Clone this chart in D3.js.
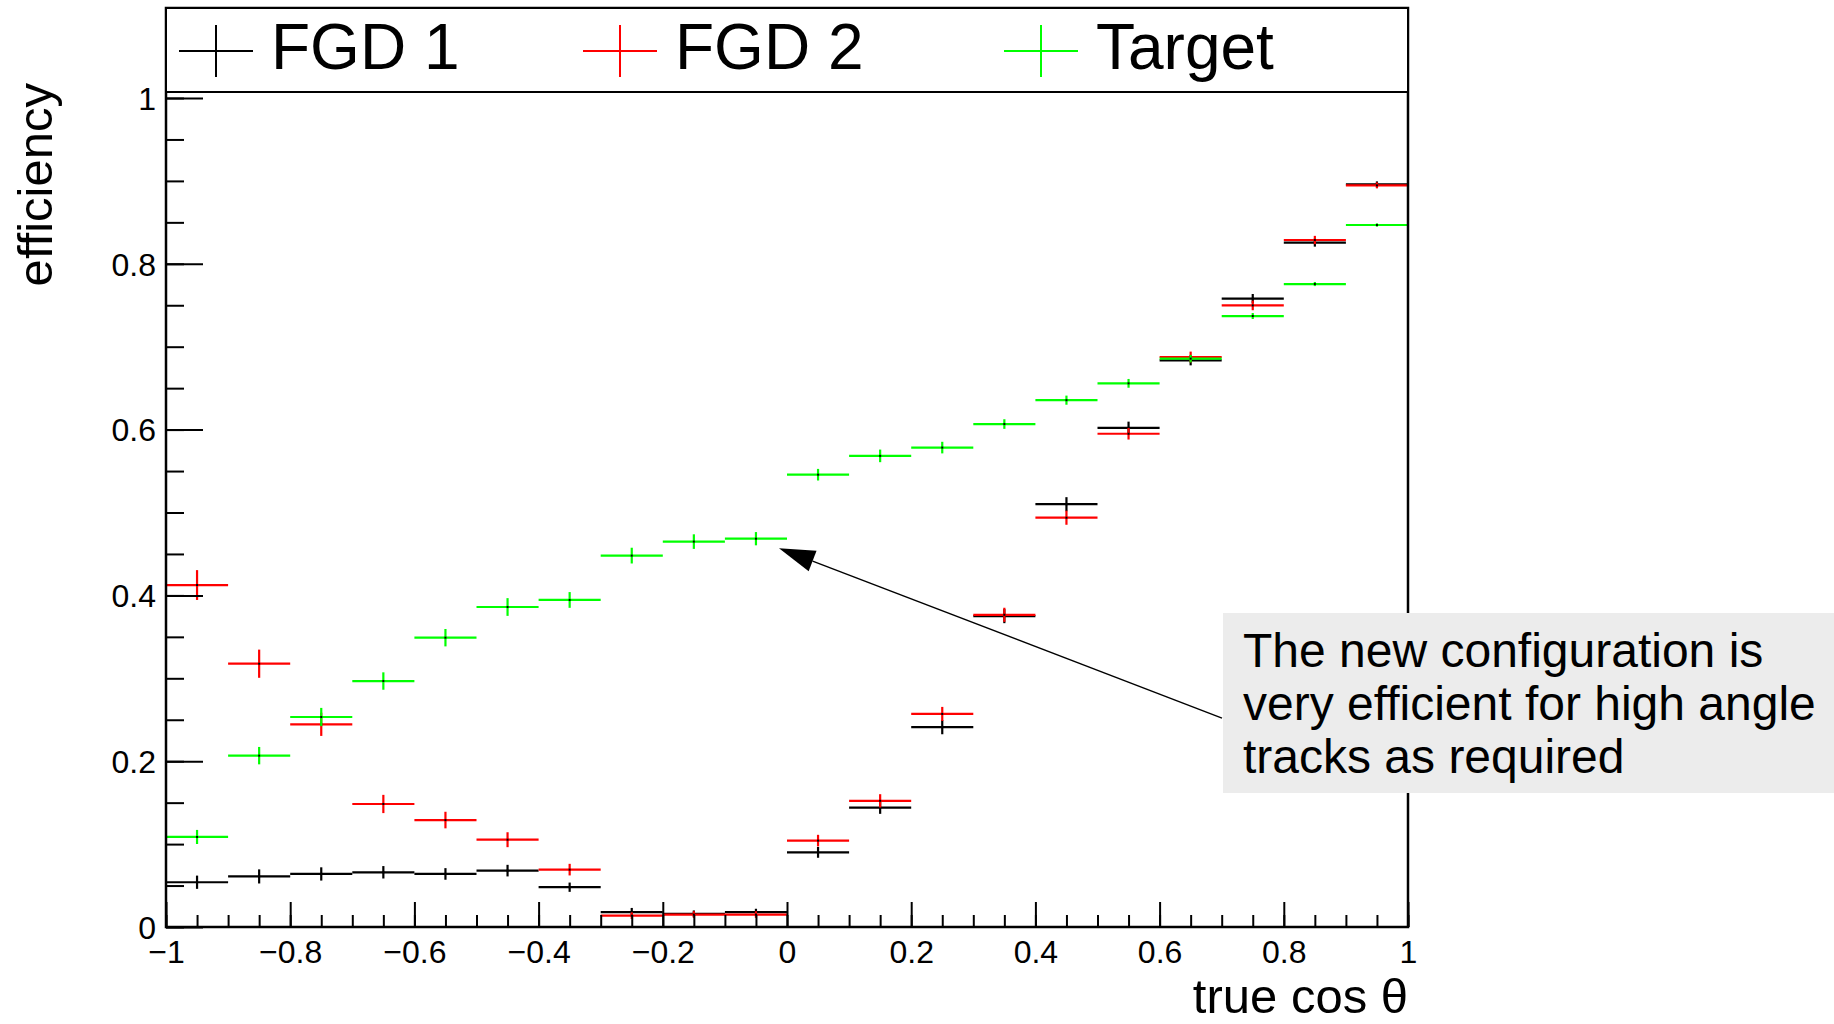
<!DOCTYPE html>
<html>
<head>
<meta charset="utf-8">
<script src="https://cdn.jsdelivr.net/npm/d3@7"></script>
<style>
  body { margin: 0; background: #fff; }
  text { font-family: "Liberation Sans", Arial, sans-serif; }
</style>
</head>
<body>
<div id="chart"></div>
<script>
// bin centres of true cos theta (bin width 0.1)
const binCenters = [-0.95, -0.85, -0.75, -0.65, -0.55, -0.45, -0.35, -0.25, -0.15, -0.05,
                    0.05, 0.15, 0.25, 0.35, 0.45, 0.55, 0.65, 0.75, 0.85, 0.95];
const binWidth = 0.1;

const fgd1Eff = [0.054, 0.061, 0.064, 0.066, 0.064, 0.068, 0.048, 0.018, 0.016, 0.018,
                 0.090, 0.144, 0.241, 0.375, 0.510, 0.602, 0.6835, 0.758, 0.8255, 0.8958];
const fgd1Err = [0.008, 0.0085, 0.008, 0.0075, 0.007, 0.007, 0.0056, 0.005, 0.004, 0.004,
                 0.0065, 0.0075, 0.0085, 0.0085, 0.0085, 0.0076, 0.006, 0.0056, 0.0048, 0.0036];

const fgd2Eff = [0.4125, 0.3176, 0.2445, 0.1484, 0.129, 0.1053, 0.0692, 0.0137, 0.015, 0.015,
                 0.1042, 0.1522, 0.257, 0.3766, 0.4937, 0.595, 0.6876, 0.7498, 0.8287, 0.8946];
const fgd2Err = [0.018, 0.017, 0.014, 0.011, 0.01, 0.009, 0.007, 0.004, 0.004, 0.004,
                 0.007, 0.008, 0.0085, 0.0085, 0.0085, 0.007, 0.0065, 0.0058, 0.005, 0.0036];

const targetEff = [0.1086, 0.2067, 0.2533, 0.2967, 0.349, 0.386, 0.3945, 0.448, 0.4649, 0.4684,
                   0.5456, 0.5683, 0.5783, 0.6067, 0.6355, 0.6558, 0.6856, 0.737, 0.7756, 0.8468];
const targetErr = [0.0085, 0.0105, 0.011, 0.0105, 0.0105, 0.0107, 0.0095, 0.0095, 0.0088, 0.008,
                   0.007, 0.0076, 0.007, 0.0058, 0.0055, 0.0053, 0.0045, 0.0036, 0.0025, 0.002];

const seriesNames = ["FGD 1", "FGD 2", "Target"];
const seriesColors = ["#000000", "#ff0000", "#00ff00"];

const xMajorTicks = [-1, -0.8, -0.6, -0.4, -0.2, 0, 0.2, 0.4, 0.6, 0.8, 1];
const yMajorTicks = [0, 0.2, 0.4, 0.6, 0.8, 1];

const noteLines = ["The new configuration is", "very efficient for high angle", "tracks as required"];

const width = 1834, height = 1024;
const frameTop = 8;

const x = d3.scaleLinear().domain([-1, 1]).range([166, 1408]);
const y = d3.scaleLinear().domain([0, 1]).range([927, 98]);

const svg = d3.select("#chart")
  .append("svg")
  .attr("width", width)
  .attr("height", height);

svg.append("rect").attr("width", width).attr("height", height).attr("fill", "#fff");

const series = [
  { name: seriesNames[0], color: seriesColors[0], eff: fgd1Eff, err: fgd1Err },
  { name: seriesNames[1], color: seriesColors[1], eff: fgd2Eff, err: fgd2Err },
  { name: seriesNames[2], color: seriesColors[2], eff: targetEff, err: targetErr }
];

// histogram points with error bars
series.forEach(s => {
  const pts = binCenters.map((c, i) => ({ c, v: s.eff[i], e: s.err[i] }));
  const g = svg.append("g");
  g.selectAll(".h")
    .data(pts)
    .enter()
    .append("line")
    .attr("x1", d => x(d.c - binWidth / 2))
    .attr("x2", d => x(d.c + binWidth / 2))
    .attr("y1", d => y(d.v))
    .attr("y2", d => y(d.v))
    .attr("stroke", s.color)
    .attr("stroke-width", 2.2);
  g.selectAll(".v")
    .data(pts)
    .enter()
    .append("line")
    .attr("x1", d => x(d.c))
    .attr("x2", d => x(d.c))
    .attr("y1", d => y(d.v - d.e))
    .attr("y2", d => y(d.v + d.e))
    .attr("stroke", s.color)
    .attr("stroke-width", 2.2);
  g.selectAll(".dot")
    .data(pts)
    .enter()
    .append("rect")
    .attr("x", d => x(d.c) - 1)
    .attr("y", d => y(d.v) - 1)
    .attr("width", 2)
    .attr("height", 2)
    .attr("fill", "#000");
});

// axes
const fmt = d3.format("~g");

const xMinor = svg.append("g")
  .attr("transform", `translate(0,${y(0)})`)
  .call(d3.axisBottom(x).tickValues(d3.range(-20, 21).map(i => i * 0.05))
    .tickSizeInner(-12).tickSizeOuter(0).tickFormat(""));
xMinor.select(".domain").remove();

const xAxis = svg.append("g")
  .attr("transform", `translate(0,${y(0)})`)
  .call(d3.axisBottom(x).tickValues(xMajorTicks)
    .tickSizeInner(-25).tickSizeOuter(0).tickPadding(13).tickFormat(fmt));

const yMinor = svg.append("g")
  .attr("transform", `translate(${x(-1)},0)`)
  .call(d3.axisLeft(y).tickValues(d3.range(0, 21).map(i => i * 0.05))
    .tickSizeInner(-18).tickSizeOuter(0).tickFormat(""));
yMinor.select(".domain").remove();

const yAxis = svg.append("g")
  .attr("transform", `translate(${x(-1)},0)`)
  .call(d3.axisLeft(y).tickValues(yMajorTicks)
    .tickSizeInner(-37).tickSizeOuter(0).tickPadding(10).tickFormat(fmt));
yAxis.selectAll("text").attr("dy", "0.35em");

[xAxis, yAxis].forEach(a => {
  a.selectAll("text").attr("font-size", 32).attr("fill", "#000")
    .style("font-family", "'Liberation Sans', Arial, sans-serif");
  a.select(".domain").remove();
});
svg.selectAll(".tick line").attr("stroke", "#000").attr("stroke-width", 2);

// frame
svg.append("rect")
  .attr("x", x(-1))
  .attr("y", frameTop)
  .attr("width", x(1) - x(-1))
  .attr("height", y(0) - frameTop)
  .attr("fill", "none")
  .attr("stroke", "#000")
  .attr("stroke-width", 2.5);

// axis titles
svg.append("text")
  .attr("transform", `translate(52,83) rotate(-90)`)
  .attr("text-anchor", "end")
  .attr("font-size", 49)
  .text("efficiency");

svg.append("text")
  .attr("x", x(1))
  .attr("y", 1013)
  .attr("text-anchor", "end")
  .attr("font-size", 49)
  .text("true cos θ");

// legend
const legend = svg.append("g");
legend.append("rect")
  .attr("x", x(-1))
  .attr("y", frameTop)
  .attr("width", x(1) - x(-1))
  .attr("height", 84)
  .attr("fill", "#fff")
  .attr("stroke", "#000")
  .attr("stroke-width", 2);

const legendX = [216, 620, 1041];
const item = legend.selectAll(".item")
  .data(series)
  .enter()
  .append("g")
  .attr("transform", (d, i) => `translate(${legendX[i]},51)`);
item.append("line")
  .attr("x1", -37).attr("x2", 37).attr("y1", 0).attr("y2", 0)
  .attr("stroke", d => d.color).attr("stroke-width", 2);
item.append("line")
  .attr("x1", 0).attr("x2", 0).attr("y1", -26).attr("y2", 26)
  .attr("stroke", d => d.color).attr("stroke-width", 2);
item.append("text")
  .attr("x", 55)
  .attr("y", 18)
  .attr("font-size", 64)
  .text(d => d.name);

// annotation with arrow
const tail = [x(0.7005), y(0.252)];
const tip = [x(-0.0129), y(0.457)];
const dx = tip[0] - tail[0], dy = tip[1] - tail[1];
const len = Math.hypot(dx, dy);
const ux = dx / len, uy = dy / len;
const headLen = 36, headHalf = 11;
const bx = tip[0] - ux * headLen, by = tip[1] - uy * headLen;

svg.append("line")
  .attr("x1", tail[0]).attr("y1", tail[1])
  .attr("x2", bx).attr("y2", by)
  .attr("stroke", "#000").attr("stroke-width", 1.4);
svg.append("path")
  .attr("d", `M${tip[0]},${tip[1]} L${bx - uy * headHalf},${by + ux * headHalf} L${bx + uy * headHalf},${by - ux * headHalf} Z`)
  .attr("fill", "#000");

svg.append("rect")
  .attr("x", 1223)
  .attr("y", 613)
  .attr("width", width - 1223)
  .attr("height", 180)
  .attr("fill", "#ececec");

svg.append("g")
  .selectAll("text")
  .data(noteLines)
  .enter()
  .append("text")
  .attr("x", 1243)
  .attr("y", (d, i) => 667 + i * 53)
  .attr("font-size", 48)
  .text(d => d);
</script>
</body>
</html>
